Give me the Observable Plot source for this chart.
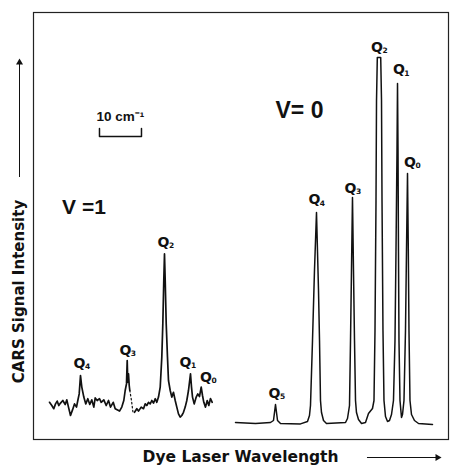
<!DOCTYPE html>
<html>
<head>
<meta charset="utf-8">
<script src="https://cdn.jsdelivr.net/npm/d3@7"></script>
<script src="https://cdn.jsdelivr.net/npm/@observablehq/plot@0.6"></script>
<style>
  html, body { margin: 0; padding: 0; background: #fff; }
  #chart svg { display: block; }
</style>
</head>
<body>
<div id="chart"></div>
<script>
// CARS spectrum of the Q branch, v = 0 and v = 1 bands.
// x: relative dye-laser detuning (cm⁻¹), y: CARS signal (arbitrary units).

// v = 0 band
const v0Shift = [48.10,52.86,56.43,57.14,57.62,58.10,58.81,63.57,65.24,65.71,65.95,66.43,66.90,67.38,67.86,68.10,68.33,68.57,69.05,69.76,74.29,74.76,75.24,75.48,75.71,75.95,76.19,76.43,76.67,76.90,77.38,78.10,79.05,79.76,80.71,81.07,81.31,81.55,81.67,81.86,82.67,82.86,82.98,83.21,83.45,83.81,84.29,84.76,85.24,85.71,86.07,86.31,86.55,86.67,86.79,86.90,87.02,87.26,87.62,87.86,88.21,88.57,88.81,89.05,89.24,89.40,89.64,90.00,90.71,91.67,95.00];
const v0Signal = [4.25,4.0,4.25,4.75,8.75,4.75,4.0,3.9,4.5,6.0,8.5,24.75,42.25,56.75,37.25,24.75,9.75,6.75,4.75,4.0,4.25,5.25,8.5,24.75,42.25,60.5,42.25,24.75,9.75,6.75,5.0,4.0,4.25,6.5,7.75,9.75,27.25,59.75,84.75,95.5,95.5,84.75,59.75,27.25,9.75,5.75,4.5,4.75,6.25,9.75,24.75,47.25,72.25,89.0,72.25,47.25,24.75,9.75,5.5,6.25,9.75,27.25,47.25,66.5,47.25,27.25,9.75,6.25,4.75,4.0,3.75];

// v = 1 band, first recorded stretch (Q4, Q3)
const v1ShiftA = [3.81,4.36,4.83,5.24,5.64,6.02,6.43,6.98,7.55,7.93,8.33,8.81,9.29,9.76,10.24,10.55,10.88,11.19,11.50,11.98,12.45,12.93,13.40,13.88,14.36,14.69,15.17,15.71,16.12,16.74,17.31,17.86,18.33,18.98,19.45,20.48,21.02,21.50,21.83,22.14,22.31,22.45,22.62,22.79,22.93];
const v1SignalA = [9.3,8.5,7.7,8.9,9.6,8.5,9.1,9.75,8.75,9.9,8.1,6.0,7.4,8.9,8.1,9.75,11.4,16.0,13.1,10.6,8.9,10.2,8.75,9.9,8.1,10.4,9.75,10.2,9.3,9.9,8.5,9.75,8.1,9.3,7.7,7.1,8.1,9.75,12.25,13.9,19.75,14.3,16.4,13.5,12.25];
// faint pen stretch between the two parts
const v1ShiftGap = [22.93,23.33,23.69];
const v1SignalGap = [12.25,9.75,6.75];
// second stretch (Q2, Q1, Q0)
const v1ShiftB = [24.05,24.60,25.00,25.64,26.19,26.60,26.98,27.38,27.79,28.17,28.57,28.98,29.36,29.76,30.17,30.55,30.79,31.02,31.19,31.36,31.60,31.90,32.14,32.55,32.93,33.33,33.74,34.12,34.52,34.93,35.31,35.71,36.12,36.50,36.90,37.38,37.62,37.86,38.26,38.74,39.12,39.52,39.93,40.24,40.55,40.95,41.36,41.74,42.14,42.55];
const v1SignalB = [6.8,7.7,7.1,8.1,7.7,8.9,8.5,9.3,8.9,9.75,9.1,10.2,9.3,10.6,13.1,20.6,28.9,39.75,46.4,39.75,28.9,20.6,14.75,12.25,10.6,11.8,9.75,8.1,6.4,5.6,6.0,6.8,8.1,9.75,12.25,16.4,13.1,10.6,8.9,10.6,11.4,10.75,13.1,11.0,9.3,8.1,9.75,8.5,10.25,9.3];

// Q-branch line labels (J index) and where they sit
const lineJ      = ["4","3","2","1","0","5","4","3","2","1","0"];
const lineLabelX = [10.95,21.90,30.95,36.19,41.07,57.38,66.90,75.48,81.79,87.02,89.64];
const lineLabelY = [19.1,22.25,49.25,19.25,15.5,11.5,59.9,62.75,98.0,92.4,69.25];

// band labels
const bandNames = ["V =1", "V= 0"];
const bandX = [12.02, 63.33];
const bandY = [58.1, 82.25];
const bandSize = [21, 23];

// scale bar
const scaleBarStart = 15.71;
const scaleBarLength = 10;   // cm⁻¹
const scaleBarY = 75.75;
const scaleBarTick = 2;

const zip = (xs, ys) => xs.map((x, i) => ({x, y: ys[i]}));
const v0 = zip(v0Shift, v0Signal);
const v1A = zip(v1ShiftA, v1SignalA);
const v1Gap = zip(v1ShiftGap, v1SignalGap);
const v1B = zip(v1ShiftB, v1SignalB);
const lineLabels = lineJ.map((j, i) => ({j, x: lineLabelX[i], y: lineLabelY[i]}));
const bands = bandNames.map((t, i) => ({t, x: bandX[i], y: bandY[i], size: bandSize[i]}));
const scaleBar = [
  {x: scaleBarStart, y: scaleBarY + scaleBarTick},
  {x: scaleBarStart, y: scaleBarY},
  {x: scaleBarStart + scaleBarLength, y: scaleBarY},
  {x: scaleBarStart + scaleBarLength, y: scaleBarY + scaleBarTick}
];
const scaleLabel = [{x: scaleBarStart + scaleBarLength / 2, y: scaleBarY + 5, t: `${scaleBarLength} cm⁻¹`}];

// axis titles with direction arrows, placed in the margins
const xTitle = [{x: 49.29, y: -4.5, t: "Dye Laser Wavelength"}];
const xArrow = [{x1: 79.52, x2: 96.19, y: -4.5}];
const yTitle = [{x: -3.33, y: 37.0, t: "CARS Signal Intensity"}];
const yArrow = [{x: -3.33, y1: 65.5, y2: 94.25}];

const ink = "#111";
const font = "DejaVu Sans";

const chart = Plot.plot({
  width: 451,
  height: 469,
  marginLeft: 33,
  marginRight: 3,
  marginTop: 12,
  marginBottom: 30,
  x: {domain: [0, 98.81], axis: null},
  y: {domain: [0, 106.75], axis: null},
  style: {background: "#fff", fontFamily: font},
  marks: [
    Plot.frame({stroke: "#222", strokeWidth: 1.2}),
    Plot.line(v0, {x: "x", y: "y", stroke: ink, strokeWidth: 1.5, strokeLinejoin: "round"}),
    Plot.line(v1A, {x: "x", y: "y", stroke: ink, strokeWidth: 1.7, strokeLinejoin: "round"}),
    Plot.line(v1Gap, {x: "x", y: "y", stroke: ink, strokeWidth: 1.2, strokeDasharray: "1.5,2.5"}),
    Plot.line(v1B, {x: "x", y: "y", stroke: ink, strokeWidth: 1.7, strokeLinejoin: "round"}),
    // line labels: Q with a subscript J
    Plot.text(lineLabels, {x: "x", y: "y", text: () => "Q", fontSize: 14, fontWeight: "bold", fill: ink}),
    Plot.text(lineLabels, {x: "x", y: "y", text: "j", dx: 8, dy: 3.5, fontSize: 7.5, fontWeight: "bold", fill: ink}),
    // band labels
    Plot.text(bands.slice(0, 1), {x: "x", y: "y", text: "t", fontFamily: "Liberation Sans", fontSize: 21, fontWeight: "bold", fill: ink}),
    Plot.text(bands.slice(1), {x: "x", y: "y", text: "t", fontFamily: "Liberation Sans", fontSize: 23, fontWeight: "bold", fill: ink}),
    // scale bar
    Plot.line(scaleBar, {x: "x", y: "y", stroke: ink, strokeWidth: 1.5}),
    Plot.text(scaleLabel, {x: "x", y: "y", text: "t", fontFamily: "Liberation Sans", fontSize: 13.5, fontWeight: "bold", fill: ink}),
    // axis titles
    Plot.text(xTitle, {x: "x", y: "y", text: "t", fontSize: 15.5, fontWeight: "bold", fill: ink}),
    Plot.ruleY(xArrow, {x1: "x1", x2: "x2", y: "y", stroke: ink, strokeWidth: 1}),
    Plot.dot(xArrow, {x: "x2", y: "y", symbol: "triangle", rotate: 90, r: 2.6, fill: ink, stroke: null}),
    Plot.text(yTitle, {x: "x", y: "y", text: "t", rotate: -90, fontSize: 15, fontWeight: "bold", fill: ink}),
    Plot.ruleX(yArrow, {x: "x", y1: "y1", y2: "y2", stroke: ink, strokeWidth: 1}),
    Plot.dot(yArrow, {x: "x", y: "y2", symbol: "triangle", r: 2.6, fill: ink, stroke: null})
  ]
});

document.getElementById("chart").append(chart);
</script>
</body>
</html>
